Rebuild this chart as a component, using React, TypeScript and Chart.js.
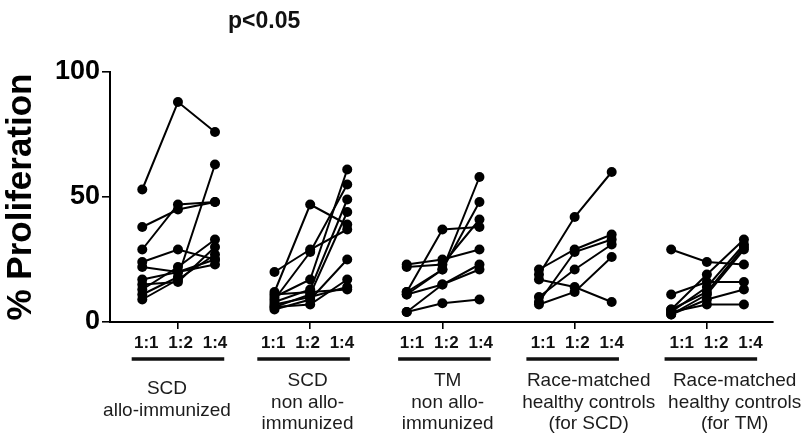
import { useEffect, useRef } from 'react';
import { Chart, registerables } from 'chart.js';

Chart.register(...registerables);

// ---------- data ----------
const ratioLabels = ['1:1', '1:2', '1:4'];
const groupNames = [
  ['SCD', 'allo-immunized'],
  ['SCD', 'non allo-', 'immunized'],
  ['TM', 'non allo-', 'immunized'],
  ['Race-matched', 'healthy controls', '(for SCD)'],
  ['Race-matched', 'healthy controls', '(for TM)'],
];
const yTickValues = [0, 50, 100];
const yTitle = '% Proliferation';
const pValueText = 'p<0.05';

// each row = one subject: [1:1, 1:2, 1:4]
const scdAllo = [
  [53, 88, 76],
  [38, 45, 48],
  [29, 47, 48],
  [24, 29, 25],
  [22, 20, 23],
  [11, 18, 63],
  [15, 16, 30],
  [13, 22, 33],
  [9, 17, 27],
  [17, 20, 25],
];
const scdNonAllo = [
  [20, 29, 37],
  [12, 47, 39],
  [10, 17, 61],
  [9, 28, 55],
  [8, 13, 49],
  [6, 11, 44],
  [5, 9, 25],
  [6, 7, 17],
  [7, 10, 14],
  [11, 12, 13],
];
const tmNonAllo = [
  [22, 23, 41],
  [23, 25, 29],
  [12, 37, 38],
  [11, 21, 58],
  [4, 15, 23],
  [4, 7.5, 9],
  [11, 15, 21],
  [12, 21, 48],
];
const raceMatchedScd = [
  [19, 42, 60],
  [21, 29, 35],
  [17, 14, 8],
  [10, 21, 31],
  [8, 28, 33],
  [7, 12, 26],
];
const raceMatchedTm = [
  [29, 24, 23],
  [11, 16, 16],
  [5, 19, 33],
  [4, 14, 31],
  [3, 11, 29],
  [3, 9, 13],
  [4, 7, 7],
  [5, 12, 30],
];
const groups = [scdAllo, scdNonAllo, tmNonAllo, raceMatchedScd, raceMatchedTm];

// ---------- layout / style ----------
const FONT = '"Liberation Sans", Arial, Helvetica, sans-serif';
const POINT_OFFSETS = [-0.27, 0, 0.28];
const RATIO_LABEL_OFFSETS = [-0.26, 0, 0.26];
const RATIO_LABEL_SHIFT = [0.02, -0.02, 0.03, 0.02, 0.07];
const BAR_SHIFT = [0, -0.05, 0.015, -0.015, 0.03];
const BAR_HALF = 0.35;
const NAME_SHIFT = [-0.083, -0.02, 0.04, 0.106, 0.21];

const labelsPlugin = {
  id: 'groupLabels',
  afterDraw(chart: any) {
    const { ctx } = chart;
    const xs = chart.scales.x;
    ctx.save();
    ctx.fillStyle = '#111';
    ctx.strokeStyle = '#111';
    // p value
    ctx.font = `bold 23px ${FONT}`;
    ctx.textAlign = 'left';
    ctx.textBaseline = 'middle';
    ctx.fillText(pValueText, 228, 22);

    groups.forEach((_, g) => {
      // ratio labels
      ctx.font = `bold 17px ${FONT}`;
      ctx.textAlign = 'center';
      ctx.textBaseline = 'middle';
      ratioLabels.forEach((lab, k) => {
        const x = xs.getPixelForValue(g + RATIO_LABEL_SHIFT[g] + RATIO_LABEL_OFFSETS[k]);
        ctx.fillText(lab, x, 343);
      });
      // underline bar
      ctx.lineWidth = 3.5;
      ctx.beginPath();
      ctx.moveTo(xs.getPixelForValue(g + BAR_SHIFT[g] - BAR_HALF), 359);
      ctx.lineTo(xs.getPixelForValue(g + BAR_SHIFT[g] + BAR_HALF), 359);
      ctx.stroke();
      // group names
      ctx.font = `19px ${FONT}`;
      ctx.fillStyle = '#1c1c1c';
      const lines = groupNames[g];
      const startY = lines.length === 2 ? 389 : 381;
      lines.forEach((line, i) => {
        ctx.fillText(line, xs.getPixelForValue(g + NAME_SHIFT[g]), startY + i * 21.5);
      });
      ctx.fillStyle = '#111';
    });
    ctx.restore();
  },
};

export default function App() {
  const ref = useRef<HTMLCanvasElement | null>(null);
  useEffect(() => {
    if (!ref.current) return;
    const datasets: any[] = [];
    groups.forEach((subjects, g) => {
      subjects.forEach((vals) => {
        datasets.push({
          data: vals.map((v, k) => ({ x: g + POINT_OFFSETS[k], y: v })),
          showLine: true,
          borderColor: '#000',
          borderWidth: 2,
          pointRadius: 5,
          pointBackgroundColor: '#000',
          pointBorderColor: '#000',
          pointBorderWidth: 0,
        });
      });
    });
    const chart = new Chart(ref.current, {
      type: 'scatter',
      data: { datasets },
      options: {
        animation: false,
        responsive: false,
        layout: { padding: { top: 72, right: 39, left: 0, bottom: 0 } },
        plugins: { legend: { display: false }, tooltip: { enabled: false } },
        scales: {
          x: {
            type: 'linear',
            min: -0.514,
            max: 4.5,
            afterBuildTicks: (s: any) => {
              s.ticks = groups.map((_, i) => ({ value: i }));
            },
            afterFit: (s: any) => {
              s.height = 121;
            },
            ticks: { display: false },
            grid: {
              drawOnChartArea: false,
              drawTicks: true,
              tickLength: 7,
              color: '#000',
              lineWidth: 1.6,
            },
            border: { display: true, color: '#000', width: 2 },
          },
          y: {
            type: 'linear',
            min: 0,
            max: 100,
            afterBuildTicks: (s: any) => {
              s.ticks = yTickValues.map((v) => ({ value: v }));
            },
            afterFit: (s: any) => {
              s.width = 110;
            },
            ticks: {
              color: '#000',
              padding: 2,
              font: { family: FONT, size: 27, weight: 'bold' },
            },
            title: {
              display: true,
              text: yTitle,
              color: '#000',
              padding: { top: 4, bottom: 0 },
              font: { family: FONT, size: 35, weight: 'bold', lineHeight: 1 },
            },
            grid: {
              drawOnChartArea: false,
              drawTicks: true,
              tickLength: 8,
              color: '#000',
              lineWidth: 1.6,
            },
            border: { display: true, color: '#000', width: 2 },
          },
        },
      },
      plugins: [labelsPlugin],
    } as any);
    return () => chart.destroy();
  }, []);
  return (
    <div style={{ position: 'fixed', left: 0, top: 0, width: 812, height: 443, background: '#fff' }}>
      <canvas ref={ref} width={812} height={443} />
    </div>
  );
}
